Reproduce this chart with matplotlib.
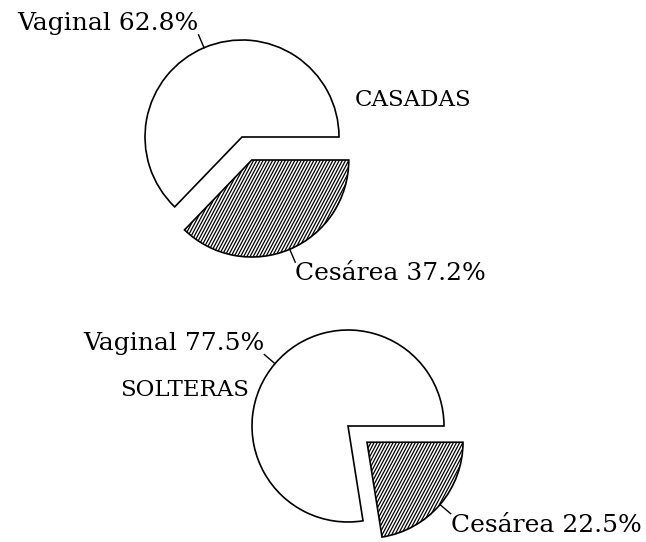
import numpy as np
import matplotlib.pyplot as plt

# Partos por tipo y estado civil
grupos = ['CASADAS', 'SOLTERAS']
tipos = ['Vaginal', 'Cesárea']
casadas = [62.8, 37.2]
solteras = [77.5, 22.5]

plt.rcParams['font.family'] = ['DejaVu Serif']

fig = plt.figure(figsize=(6.46, 5.42), dpi=100)
ax = fig.add_axes([0, 0, 1, 1])
ax.set_xlim(0, 646)
ax.set_ylim(0, 542)
ax.set_aspect('equal')
ax.axis('off')


def hatch_wedge(w, angle=62, step=2.8):
    # dense diagonal hatching clipped to the wedge
    cx, cy = w.center
    r = w.r
    d = np.array([np.cos(np.deg2rad(angle)), np.sin(np.deg2rad(angle))])
    n = np.array([-d[1], d[0]])
    for off in np.arange(-r, r, step):
        a = np.array([cx, cy]) + off * n - r * d
        b = np.array([cx, cy]) + off * n + r * d
        ln, = ax.plot([a[0], b[0]], [a[1], b[1]], color='black', lw=0.9)
        ln.set_clip_path(w)


def draw_pie(values, center, radius, title, title_xy):
    wedges, _ = ax.pie(values, center=center, radius=radius, startangle=0,
                       explode=[0, 25], colors=['white', 'white'],
                       wedgeprops=dict(edgecolor='black', linewidth=1.2),
                       frame=True)
    hatch_wedge(wedges[1])
    for w, name, v in zip(wedges, tipos, values):
        ang = np.deg2rad((w.theta1 + w.theta2) / 2)
        cx, cy = w.center
        c, s = np.cos(ang), np.sin(ang)
        p0 = (cx + w.r * c, cy + w.r * s)
        p1 = (cx + (w.r + 14) * c, cy + (w.r + 14) * s)
        ax.plot([p0[0], p1[0]], [p0[1], p1[1]], color='black', lw=1.0)
        ax.text(p1[0], p1[1], f'{name} {v}%', fontsize=18,
                ha='right' if c < 0 else 'left',
                va='bottom' if s > 0 else 'top')
    ax.text(title_xy[0], title_xy[1], title, fontsize=16.5, ha='left', va='center')


draw_pie(casadas, (242, 405), 97, grupos[0], (355, 442))
draw_pie(solteras, (348, 116), 96, grupos[1], (120, 152))

ax.set_xlim(0, 646)
ax.set_ylim(0, 542)
ax.axis('off')

fig.savefig('out.png', dpi=100)
